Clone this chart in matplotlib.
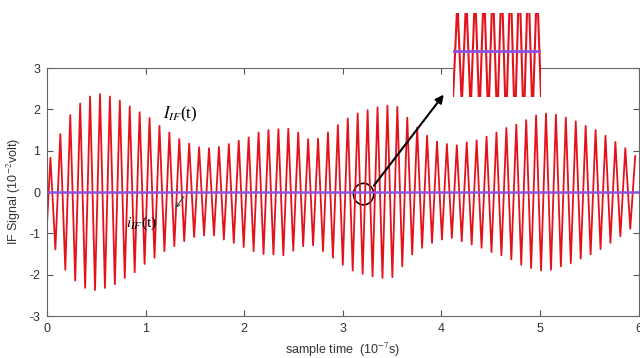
import numpy as np
import matplotlib.pyplot as plt
from matplotlib.patches import Ellipse

plt.rcParams.update({
    'font.family': ['Liberation Sans', 'DejaVu Sans'],
    'mathtext.fontset': 'stix',
    'axes.unicode_minus': False,
})

# I_IF(t): value at t=0, then alternating peaks / troughs
start_value = -0.78
peak_values = [0.83, 1.40, 1.86, 2.14, 2.31, 2.37, 2.31, 2.21, 2.07, 1.93,
               1.79, 1.60, 1.44, 1.28, 1.17, 1.08, 1.06, 1.09, 1.16, 1.24,
               1.32, 1.44, 1.50, 1.52, 1.53, 1.44, 1.28, 1.29, 1.44, 1.62,
               1.78, 1.90, 1.98, 2.05, 2.09, 2.06, 1.80, 1.56, 1.36, 1.22,
               1.16, 1.13, 1.20, 1.25, 1.34, 1.44, 1.55, 1.63, 1.74, 1.85,
               1.90, 1.87, 1.80, 1.71, 1.60, 1.50, 1.36, 1.21, 1.06, 0.87]
trough_values = [-1.39, -1.88, -2.14, -2.32, -2.37, -2.32, -2.23, -2.08, -1.94, -1.74,
                 -1.59, -1.43, -1.31, -1.19, -1.09, -1.05, -1.05, -1.15, -1.23, -1.33,
                 -1.43, -1.50, -1.51, -1.53, -1.42, -1.31, -1.29, -1.43, -1.59, -1.76,
                 -1.90, -1.98, -2.04, -2.08, -2.06, -1.80, -1.51, -1.35, -1.23, -1.15,
                 -1.11, -1.19, -1.27, -1.35, -1.45, -1.53, -1.63, -1.76, -1.84, -1.90,
                 -1.88, -1.80, -1.72, -1.61, -1.51, -1.38, -1.23, -1.07, -0.89]
# i_IF(t) stays at ~0 on this scale
iif_level = 0.0

first_peak_time = 0.035
half_period = 0.05025

# interleave peaks and troughs into one sampled signal
extrema = []
for i, p in enumerate(peak_values):
    extrema.append(p)
    if i < len(trough_values):
        extrema.append(trough_values[i])
t = np.concatenate([[0.0], first_peak_time + half_period * np.arange(len(extrema))])
signal = np.concatenate([[start_value], extrema])

red = '#e3121b'
purple = '#8c52e8'

fig = plt.figure(figsize=(6.4, 3.58), dpi=100)
ax = fig.add_axes([0.0734, 0.1173, 0.9246, 0.6927])

ax.plot(t, signal, color=red, linewidth=1.3)
ax.axhline(iif_level, color=purple, linewidth=1.8)

ax.set_xlim(0, 6)
ax.set_ylim(-3, 3)
ax.set_xticks(range(0, 7))
ax.set_yticks(range(-3, 4))
ax.tick_params(direction='in', top=True, right=True, length=4, width=0.8,
               labelsize=9, colors='#555555', labelcolor='#333333', pad=5)
for s in ax.spines.values():
    s.set_color('#666666')
    s.set_linewidth(0.8)

ax.set_xlabel('sample time  (10$^{-7}$s)', fontsize=9, color='#333333', labelpad=4)
ax.set_ylabel('IF Signal (10$^{-2}$volt)', fontsize=9, color='#333333', labelpad=4)

# curve labels
ax.text(1.18, 1.89, r'$I_{IF}$(t)', fontsize=12, family='Liberation Serif',
        va='center', ha='left')
ax.text(0.80, -0.76, r'$i_{IF}$(t)', fontsize=11, family='Liberation Serif',
        va='center', ha='left')
ax.annotate('', xy=(1.286, -0.44), xytext=(1.405, -0.06),
            arrowprops=dict(arrowstyle='->', color='#444444', lw=0.8, mutation_scale=7))

# zoom marker and arrow to the inset
ax.add_patch(Ellipse((3.21, -0.05), 0.205, 0.52, fill=False, edgecolor='black', linewidth=1.2))
ax.annotate('', xy=(4.04, 2.41), xytext=(3.297, 0.10),
            arrowprops=dict(arrowstyle='-|>', color='black', lw=1.5, mutation_scale=12))

# inset: zoomed view around the marked region
ins = fig.add_axes([0.708, 0.730, 0.1375, 0.233])
ins.set_facecolor('white')
ins.plot(t, signal, color=red, linewidth=1.5)
ins.axhline(iif_level, color=purple, linewidth=2.0)
ins.set_xlim(2.7, 3.7)
ins.set_ylim(-1.21, 0.99)
ins.set_xticks([])
ins.set_yticks([])
for s in ins.spines.values():
    s.set_visible(False)

fig.savefig('out.png', dpi=100)
